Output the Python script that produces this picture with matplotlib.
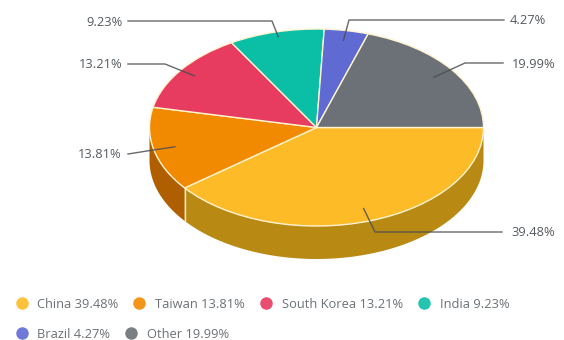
"""Pie chart with a fake 3D rim: market share by country."""

import matplotlib

matplotlib.use("Agg")
import matplotlib.pyplot as plt
import numpy as np

countries = ["China", "Taiwan", "South Korea", "India", "Brazil", "Other"]
shares = [39.48, 13.81, 13.21, 9.23, 4.27, 19.99]
top_colors = ["#FDBB27", "#F28A00", "#E73B60", "#0BBFA6", "#5F6BD3", "#6C7177"]
rim_colors = ["#B88A14", "#B05F00", "#A82A45", "#088A78", "#444D99", "#4E5256"]

WIDTH, HEIGHT = 564, 340
CX, CY = 316.5, 127.5
RX, RY = 167.0, 98.5
DEPTH = 33.0 / RY
TEXT_COLOR = "#555b60"
LINE_COLOR = "#4a4e52"
FONT_SIZE = 9.3

# label anchor and elbow of each leader, in pixels from the top left
label_pos = [(511, 233, "left"), (121, 154, "right"), (122, 65, "right"),
             (123, 22, "right"), (510, 21, "left"), (512, 64, "left")]
elbows = [[(375, 232), (502, 232)], [(147, 151), (128, 154)], [(165, 64), (128, 64)],
          [(272, 21), (128, 21)], [(349, 20), (504, 20)], [(465, 63), (503, 63)]]
leader_radius = [0.87, 0.87, 0.90, 0.95, 0.90, 0.87]

legend_rows = [(22, 37, 303), (139, 155, 303), (266, 282, 303), (424, 440, 303),
               (22, 37, 333), (131, 147, 333)]


def to_data(px, py):
    return (px - CX) / RX, (py - CY) / RY


plt.rcParams["font.family"] = ["Open Sans", "DejaVu Sans"]

fig = plt.figure(figsize=(WIDTH / 100, HEIGHT / 100), dpi=100)
ax = fig.add_axes([0, 0, 1, 1])

ax.pie(
    shares,
    colors=top_colors,
    startangle=0,
    radius=1.0,
    center=(0, 0),
    wedgeprops={"edgecolor": "#FFF3D0", "linewidth": 1.0, "zorder": 3},
)
ax.set_aspect("auto")
ax.set_xlim(to_data(0, 0)[0], to_data(WIDTH, 0)[0])
ax.set_ylim(to_data(0, HEIGHT)[1], to_data(0, 0)[1])
ax.axis("off")

# rim of the disc: only the front half of the ellipse shows
edges = np.concatenate([[0], np.cumsum(shares)]) / sum(shares) * 360
for start, stop, color in zip(edges[:-1], edges[1:], rim_colors):
    a, b = max(start, 0), min(stop, 180)
    if a >= b:
        continue
    t = np.radians(np.linspace(a, b, 80))
    xs = np.concatenate([np.cos(t), np.cos(t[::-1])])
    ys = np.concatenate([np.sin(t), np.sin(t[::-1]) + DEPTH])
    ax.fill(xs, ys, color=color, lw=0, zorder=2)
t_split = np.radians(edges[1])
ax.plot([np.cos(t_split)] * 2, [np.sin(t_split), np.sin(t_split) + DEPTH],
        color="#FFE9A8", lw=1.0, zorder=2.5)

# leader lines run from inside each slice out to its percentage
mids = np.radians((edges[:-1] + edges[1:]) / 2)
for i, share in enumerate(shares):
    x0, y0 = leader_radius[i] * np.cos(mids[i]), leader_radius[i] * np.sin(mids[i])
    pts = [to_data(*p) for p in elbows[i]]
    ax.plot([x0] + [p[0] for p in pts], [y0] + [p[1] for p in pts],
            color=LINE_COLOR, lw=1.0, alpha=0.85, zorder=4, solid_joinstyle="round")
    px, py, align = label_pos[i]
    tx, ty = to_data(px, py)
    ax.text(tx, ty, f"{share:.2f}%", ha=align, va="center", fontsize=FONT_SIZE,
            color=TEXT_COLOR, zorder=5)

# legend
for i, (name, share) in enumerate(zip(countries, shares)):
    mark_x, text_x, row_y = legend_rows[i]
    mx, my = to_data(mark_x, row_y)
    ax.plot([mx], [my], "o", ms=9, color=top_colors[i], mew=0, alpha=0.9, zorder=5)
    tx, ty = to_data(text_x, row_y + 1)
    ax.text(tx, ty, f"{name} {share:.2f}%", ha="left", va="center", fontsize=FONT_SIZE,
            color="#6b7176", zorder=5)

fig.savefig("out.png", dpi=100, facecolor="white")
plt.close(fig)
